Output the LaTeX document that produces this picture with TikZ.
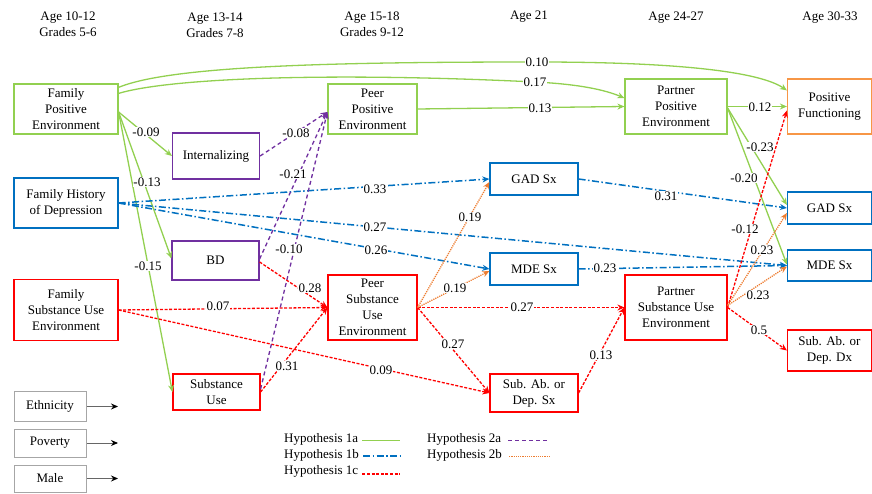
\documentclass[tikz,border=0pt]{standalone}
\usepackage{fontspec}
\setmainfont{Liberation Serif}
\usetikzlibrary{arrows.meta}
\definecolor{hgreen}{HTML}{92D050}
\definecolor{hblue}{HTML}{0070C0}
\definecolor{hred}{HTML}{FF0000}
\definecolor{hpurple}{HTML}{7030A0}
\definecolor{horange}{HTML}{ED7D31}
\definecolor{hpf}{HTML}{F79646}

\begin{document}
\begin{tikzpicture}[x=1pt,y=-1pt,
	font=\fontsize{13}{16}\selectfont,
	box/.style={draw,line width=1.2pt,align=center,inner sep=1pt},
	cov/.style={draw=black!35,line width=1pt,align=center,minimum width=72pt},
	lbl/.style={fill=white,inner sep=0.6pt},
	tip/.style={-{Stealth[length=7pt,width=6pt]}},
	h1a/.style={draw=hgreen,line width=1.3pt,tip},
	h1b/.style={draw=hblue,line width=1.5pt,dash pattern=on 7pt off 2.5pt on 1.5pt off 2.5pt,tip},
	h1c/.style={draw=hred,line width=1.3pt,dash pattern=on 3pt off 1.6pt,tip},
	h2a/.style={draw=hpurple,line width=1.3pt,dash pattern=on 4pt off 3pt,tip},
	h2b/.style={draw=horange,line width=1.3pt,dash pattern=on 1.2pt off 1pt,tip}]
	\useasboundingbox (0,0) rectangle (872,494);

	\node[align=center] (t1) at (68,24) {Age 10-12\\Grades 5-6};
	\node[align=center] (t2) at (215,25) {Age 13-14\\Grades 7-8};
	\node[align=center] (t3) at (372,24) {Age 15-18\\Grades 9-12};
	\node (t4) at (529,17) {Age 21};
	\node (t5) at (676,18) {Age 24-27};
	\node (t6) at (830,18) {Age 30-33};

	\node[box,draw=hgreen,minimum width=104pt,minimum height=50pt] (fpe) at (66,109) {Family\\Positive\\Environment};
	\node[box,draw=hblue,minimum width=104pt,minimum height=50pt] (fhd) at (66,203) {Family History\\of Depression};
	\node[box,draw=hred,minimum width=104pt,minimum height=61pt] (fsue) at (66,310) {Family\\Substance Use\\Environment};
	\node[box,draw=hpurple,minimum width=87pt,minimum height=46pt] (intz) at (216,156) {Internalizing};
	\node[box,draw=hpurple,minimum width=87pt,minimum height=39pt] (bd) at (215.5,260.5) {BD};
	\node[box,draw=hred,minimum width=87pt,minimum height=36pt] (suse) at (216.5,392) {Substance\\Use};
	\node[box,draw=hgreen,minimum width=89pt,minimum height=50pt] (ppe) at (372.5,109) {Peer\\Positive\\Environment};
	\node[box,draw=hred,minimum width=89pt,minimum height=65pt] (psue) at (372.5,307.5) {Peer\\Substance\\Use\\Environment};
	\node[box,draw=hblue,minimum width=88pt,minimum height=32pt] (gada) at (534,179) {GAD Sx};
	\node[box,draw=hblue,minimum width=88pt,minimum height=32pt] (mdea) at (534,269) {MDE Sx};
	\node[box,draw=hred,minimum width=88pt,minimum height=38pt] (saba) at (534,393) {Sub. Ab. or\\Dep. Sx};
	\node[box,draw=hgreen,minimum width=102pt,minimum height=55pt] (ppart) at (676,106.5) {Partner\\Positive\\Environment};
	\node[box,draw=hred,minimum width=102pt,minimum height=65pt] (spart) at (676,307.5) {Partner\\Substance Use\\Environment};
	\node[box,draw=hpf,minimum width=84pt,minimum height=55pt] (posf) at (829.5,106.5) {Positive\\Functioning};
	\node[box,draw=hblue,minimum width=84pt,minimum height=32pt] (gadb) at (829.5,208) {GAD Sx};
	\node[box,draw=hblue,minimum width=84pt,minimum height=31pt] (mdeb) at (829.5,265.5) {MDE Sx};
	\node[box,draw=hred,minimum width=84pt,minimum height=41pt] (sabb) at (829.5,350.5) {Sub. Ab. or\\Dep. Dx};

	\node[cov,minimum height=30pt] (eth) at (50,406.5) {Ethnicity};
	\node[cov,minimum height=28pt] (pov) at (50,443) {Poverty};
	\node[cov,minimum height=27pt] (male) at (50,478.5) {Male};
	\coordinate (ethx) at (118,406.5);
	\coordinate (povx) at (118,443);
	\coordinate (malex) at (118,478.5);
	\draw[black!60,line width=0.9pt,-{Stealth[length=7pt,width=6pt,color=black]}] (eth.east) -- (ethx);
	\draw[black!60,line width=0.9pt,-{Stealth[length=7pt,width=6pt,color=black]}] (pov.east) -- (povx);
	\draw[black!60,line width=0.9pt,-{Stealth[length=7pt,width=6pt,color=black]}] (male.east) -- (malex);

	\draw[h1a] ([yshift=-4pt]fpe.north east) .. controls (170,66) and (330,62) .. (537,62) .. controls (680,62) and (760,72) .. ([yshift=-12pt]posf.north west);
	\draw[h1a] ([yshift=-10pt]fpe.north east) .. controls (170,78) and (330,72) .. (535,82) .. controls (580,84.2) and (605,90) .. ([yshift=8.5pt]ppart.west);
	\draw[h1a] (ppe.east) -- (ppart.west);
	\draw[h1a] (ppart.east) -- (posf.west);
	\draw[h1a] ([yshift=-1.5pt]ppart.east) -- ([yshift=3pt]gadb.west);
	\draw[h1a] ([yshift=-1.5pt]ppart.east) -- ([yshift=1pt]mdeb.west);
	\draw[h1a] ([yshift=-3pt]fpe.east) -- (intz.west);
	\draw[h1a] ([yshift=-3pt]fpe.east) -- ([yshift=2pt]bd.west);
	\draw[h1a] ([yshift=-3pt]fpe.east) -- (suse.west);

	\draw[h1b] (fhd.east) -- (gada.west);
	\draw[h1b] (fhd.east) -- (mdeb.west);
	\draw[h1b] (fhd.east) -- (mdea.west);
	\draw[h1b] (gada.east) -- (gadb.west);
	\draw[h1b] (mdea.east) -- (mdeb.west);

	\draw[h1c] (fsue.east) -- (psue.west);
	\draw[h1c] (fsue.east) -- (saba.west);
	\draw[h1c] ([yshift=-1.5pt]bd.east) -- (psue.west);
	\draw[h1c] (suse.east) -- (psue.west);
	\draw[h1c] (psue.east) -- (spart.west);
	\draw[h1c] (psue.east) -- (saba.west);
	\draw[h1c] (saba.east) -- (spart.west);
	\draw[h1c] (spart.east) -- ([yshift=-4pt]posf.west);
	\draw[h1c] (spart.east) -- (sabb.west);

	\draw[h2a] (intz.east) -- ([yshift=-3pt]ppe.west);
	\draw[h2a] ([yshift=1.5pt]bd.east) -- ([yshift=-3pt]ppe.west);
	\draw[h2a] ([yshift=3pt]suse.east) -- ([yshift=-3pt]ppe.west);

	\draw[h2b] (psue.east) -- ([yshift=-3pt]gada.west);
	\draw[h2b] (psue.east) -- ([yshift=-2pt]mdea.west);
	\draw[h2b] ([yshift=2pt]spart.east) -- ([yshift=-5pt]gadb.west);
	\draw[h2b] ([yshift=2pt]spart.east) -- ([yshift=-1pt]mdeb.west);

	\node[lbl] (w1) at (537,62) {0.10};
	\node[lbl] (w2) at (535,82) {0.17};
	\node[lbl] (w3) at (540,108) {0.13};
	\node[lbl] (w4) at (760,107) {0.12};
	\node[lbl] (w5) at (760,147) {-0.23};
	\node[lbl] (w6) at (744,178) {-0.20};
	\node[lbl] (w7) at (146,132) {-0.09};
	\node[lbl] (w8) at (147,182) {-0.13};
	\node[lbl] (w9) at (148,266) {-0.15};
	\node[lbl] (w10) at (296,133) {-0.08};
	\node[lbl] (w11) at (293,174) {-0.21};
	\node[lbl] (w12) at (289,249) {-0.10};
	\node[lbl] (w13) at (375,189) {0.33};
	\node[lbl] (w14) at (375,227) {0.27};
	\node[lbl] (w15) at (376,250) {0.26};
	\node[lbl] (w16) at (310,288) {0.28};
	\node[lbl] (w17) at (218,306) {0.07};
	\node[lbl] (w18) at (287,366) {0.31};
	\node[lbl] (w19) at (381,370) {0.09};
	\node[lbl] (w20) at (470,217) {0.19};
	\node[lbl] (w21) at (455,288) {0.19};
	\node[lbl] (w22) at (522,307) {0.27};
	\node[lbl] (w23) at (453,344) {0.27};
	\node[lbl] (w24) at (601,355) {0.13};
	\node[lbl] (w25) at (666,196) {0.31};
	\node[lbl] (w26) at (605,268) {0.23};
	\node[lbl] (w27) at (745,229) {-0.12};
	\node[lbl] (w28) at (762,250) {0.23};
	\node[lbl] (w29) at (758,295) {0.23};
	\node[lbl] (w30) at (759,330) {0.5};

	\node[anchor=west,inner sep=0pt] (k1a) at (284,439) {Hypothesis 1a};
	\node[anchor=west,inner sep=0pt] (k1b) at (284,455) {Hypothesis 1b};
	\node[anchor=west,inner sep=0pt] (k1c) at (284,471) {Hypothesis 1c};
	\node[anchor=west,inner sep=0pt] (k2a) at (427,439) {Hypothesis 2a};
	\node[anchor=west,inner sep=0pt] (k2b) at (427,455) {Hypothesis 2b};
	\draw[h1a,-] ([xshift=4pt,yshift=-1.5pt]k1a.east) -- ++(38,0);
	\draw[h1b,-] ([xshift=4pt,yshift=-1pt]k1b.east) -- ++(38,0);
	\draw[h1c,-] ([xshift=4pt,yshift=-3pt]k1c.east) -- ++(38,0);
	\draw[h2a,-] ([xshift=7pt,yshift=-1.5pt]k2a.east) -- ++(41,0);
	\draw[h2b,-] ([xshift=7pt,yshift=-1.5pt]k2b.east) -- ++(41,0);
\end{tikzpicture}
\end{document}
